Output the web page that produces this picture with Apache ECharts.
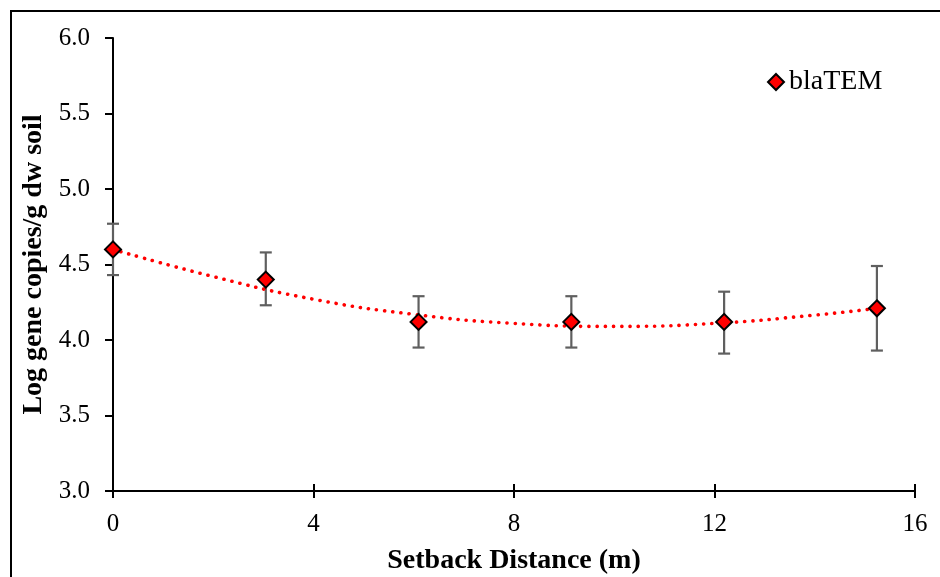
<!DOCTYPE html>
<html>
<head>
<meta charset="utf-8">
<script src="https://cdn.jsdelivr.net/npm/echarts@6/dist/echarts.min.js"></script>
<style>
  html, body { margin: 0; padding: 0; background: #fff; }
  #chart { width: 940px; height: 577px; }
</style>
</head>
<body>
<div id="chart"></div>
<script>
// Setback distances (m) and mean log gene copies per g dry-weight soil
const distances = [0, 3.048, 6.096, 9.144, 12.192, 15.24];
const blaTEM = [4.60, 4.40, 4.12, 4.12, 4.12, 4.21];
const errLow = [4.43, 4.23, 3.95, 3.95, 3.91, 3.93];
const errHigh = [4.77, 4.58, 4.29, 4.29, 4.32, 4.49];

// Points along the polynomial trendline
const trendX = [0, 2, 4, 6, 8, 10, 12, 14, 15.24];
const trendY = [4.60, 4.42, 4.27, 4.17, 4.11, 4.09, 4.11, 4.165, 4.21];

// Axis ticks
const xTicks = { min: 0, max: 16, interval: 4 };
const yTicks = { min: 3.0, max: 6.0, interval: 0.5 };

const serif = '"Liberation Serif", "Times New Roman", serif';

const chart = echarts.init(document.getElementById('chart'), null, { renderer: 'canvas' });

const pointData = distances.map((d, i) => [d, blaTEM[i]]);
const errData = distances.map((d, i) => [d, errLow[i], errHigh[i]]);
const trendData = trendX.map((d, i) => [d, trendY[i]]);

chart.setOption({
  animation: false,
  backgroundColor: '#fff',
  graphic: [{
    type: 'rect',
    shape: { x: 11, y: 11, width: 1000, height: 1000 },
    style: { fill: 'none', stroke: '#000', lineWidth: 2 },
    silent: true
  }],
  grid: { left: 113, right: 25, top: 38, bottom: 86, containLabel: false, outerBoundsMode: 'none' },
  legend: {
    data: ['blaTEM'],
    left: 762,
    top: 63,
    icon: 'diamond',
    itemWidth: 16,
    itemHeight: 16,
    textStyle: { fontFamily: serif, fontSize: 28, color: '#000' }
  },
  xAxis: [{
    type: 'value',
    min: xTicks.min, max: xTicks.max, interval: xTicks.interval,
    name: 'Setback Distance (m)',
    nameLocation: 'middle',
    nameGap: 56,
    nameTextStyle: { fontFamily: serif, fontSize: 28, fontWeight: 'bold', color: '#000' },
    axisLine: { onZero: false, lineStyle: { color: '#000', width: 2 } },
    axisTick: { show: true, length: 7, lineStyle: { color: '#000', width: 2 } },
    axisLabel: { fontFamily: serif, fontSize: 25, color: '#000', margin: 21 },
    splitLine: { show: false }
  }, {
    // inner half of the crossing ticks on the horizontal axis
    type: 'value',
    position: 'bottom',
    min: xTicks.min, max: xTicks.max, interval: xTicks.interval,
    axisLine: { show: false },
    axisTick: { show: true, inside: true, length: 7, lineStyle: { color: '#000', width: 2 } },
    axisLabel: { show: false },
    splitLine: { show: false }
  }],
  yAxis: {
    type: 'value',
    min: yTicks.min, max: yTicks.max, interval: yTicks.interval,
    name: 'Log gene copies/g dw soil',
    nameLocation: 'middle',
    nameGap: 65,
    nameTextStyle: { fontFamily: serif, fontSize: 28, fontWeight: 'bold', color: '#000' },
    axisLine: { show: true, onZero: false, lineStyle: { color: '#000', width: 2 } },
    axisTick: { show: true, length: 8, lineStyle: { color: '#000', width: 2 } },
    axisLabel: {
      fontFamily: serif, fontSize: 25, color: '#000', margin: 23,
      formatter: v => v.toFixed(1)
    },
    splitLine: { show: false }
  },
  series: [
    {
      name: 'error',
      type: 'custom',
      z: 1,
      data: errData,
      renderItem: function (params, api) {
        const x = api.value(0);
        const lo = api.coord([x, api.value(1)]);
        const hi = api.coord([x, api.value(2)]);
        const cap = 6;
        const style = { stroke: '#5f5f5f', lineWidth: 2.2, fill: 'none' };
        return {
          type: 'group',
          children: [
            { type: 'line', shape: { x1: lo[0], y1: lo[1], x2: hi[0], y2: hi[1] }, style },
            { type: 'line', shape: { x1: lo[0] - cap, y1: lo[1], x2: lo[0] + cap, y2: lo[1] }, style },
            { type: 'line', shape: { x1: hi[0] - cap, y1: hi[1], x2: hi[0] + cap, y2: hi[1] }, style }
          ]
        };
      },
      silent: true
    },
    {
      name: 'trend',
      type: 'line',
      z: 2,
      data: trendData,
      smooth: true,
      showSymbol: false,
      symbol: 'none',
      lineStyle: { color: '#ff0000', width: 3.6, type: [0.1, 8.1], cap: 'round' },
      silent: true
    },
    {
      name: 'blaTEM',
      type: 'scatter',
      z: 3,
      data: pointData,
      symbol: 'diamond',
      symbolSize: [16, 16],
      itemStyle: { color: '#ff0000', borderColor: '#000', borderWidth: 2, opacity: 1 }
    }
  ]
});
</script>
</body>
</html>
